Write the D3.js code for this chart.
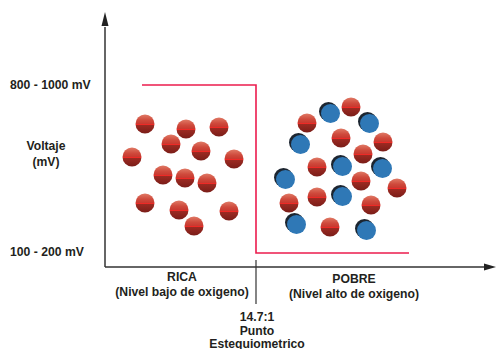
<!DOCTYPE html>
<html><head><meta charset="utf-8">
<script src="https://cdn.jsdelivr.net/npm/d3@7"></script>
<style>body{margin:0;background:#fff}svg{display:block}text{font-family:"Liberation Sans",Arial,sans-serif;font-weight:bold;fill:#231f20}</style>
</head><body>
<script>
// Plot units: x from y-axis, y up from x-axis
const richX = [40,81,114,66,27,96,129,58,80,102,40,74,124,89];
const richY = [143,138,140,123,110,116,108,92,89,84,64,57,56,41];
const leanRedX = [246,202,236,278,258,212,256,292,184,212,266,225];
const leanRedY = [160,144,129,125,113,100,86,79,64,70,62,40];
const leanBlueX = [225,264,195,237,277,180,237,191,261];
const leanBlueY = [154,144,123,101,99,88,71,43,37];
const voltX = [37,151,151,304];
const voltY = [182,182,14,14];
const yLabels = [{t:"800 - 1000 mV",v:182},{t:"100 - 200 mV",v:15}];
const stoichX = 151;
const regionLabels = [{t:"RICA",s:"(Nivel bajo de oxigeno)",x:77,dy:0},{t:"POBRE",s:"(Nivel alto de oxigeno)",x:249,dy:2}];
const stoichLabel = ["14.7:1","Punto","Estequiometrico"];

const W=496,H=349;
const x = d3.scaleLinear().domain([0,390]).range([105,495]);
const y = d3.scaleLinear().domain([0,255]).range([267,12]);
const svg = d3.select("body").append("svg").attr("width",W).attr("height",H);
const defs = svg.append("defs");
const g = defs.append("linearGradient").attr("id","redg").attr("x1",0).attr("y1",0).attr("x2",0).attr("y2",1);
[[0,"#e07a66"],[0.3,"#cf4a3c"],[0.5,"#c8382f"],[0.5,"#ee2a26"],[0.56,"#ee2a26"],[0.56,"#9c2a22"],[1,"#7a1d18"]].forEach(s=>g.append("stop").attr("offset",s[0]).attr("stop-color",s[1]));

// red voltage line
svg.append("path").attr("d",d3.line().x((d,i)=>x(voltX[i])).y((d,i)=>y(voltY[i]))(voltX))
  .attr("fill","none").attr("stroke","#ec1c4e").attr("stroke-width",1.6);

// axes
svg.append("line").attr("x1",x(0)).attr("x2",x(0)).attr("y1",y(0)).attr("y2",y(240)).attr("stroke","#333").attr("stroke-width",1.5);
svg.append("path").attr("d",`M${x(0)},${y(255)} L${x(0)-3.5},${y(241)} L${x(0)+3.5},${y(241)} Z`).attr("fill","#222");
svg.append("line").attr("x1",x(0)).attr("x2",x(380)).attr("y1",y(0)).attr("y2",y(0)).attr("stroke","#333").attr("stroke-width",1.5);
svg.append("path").attr("d",`M${x(391)},${y(0)} L${x(379)},${y(0)-3.5} L${x(379)},${y(0)+3.5} Z`).attr("fill","#222");
svg.append("line").attr("x1",x(stoichX)).attr("x2",x(stoichX)).attr("y1",y(7)).attr("y2",y(-37)).attr("stroke","#333").attr("stroke-width",1.2);

// circles
const r=9.5;
const red = richX.map((v,i)=>[v,richY[i]]).concat(leanRedX.map((v,i)=>[v,leanRedY[i]]));
svg.selectAll(".red").data(red).enter().append("circle").attr("cx",d=>x(d[0])).attr("cy",d=>y(d[1])).attr("r",r).attr("fill","url(#redg)");
const blue = leanBlueX.map((v,i)=>[v,leanBlueY[i]]);
svg.selectAll(".bsh").data(blue).enter().append("circle").attr("cx",d=>x(d[0])-1.5).attr("cy",d=>y(d[1])-1.5).attr("r",r).attr("fill","#1c2530");
svg.selectAll(".blu").data(blue).enter().append("circle").attr("cx",d=>x(d[0])+0.5).attr("cy",d=>y(d[1])+0.5).attr("r",r).attr("fill","#2f78b6");

// labels
const fs = "12.2px";
svg.selectAll(".yl").data(yLabels).enter().append("text").attr("x",10).attr("y",d=>y(d.v)+4).attr("font-size",fs).text(d=>d.t);
svg.append("text").attr("x",46).attr("y",150).attr("text-anchor","middle").attr("font-size",fs).text("Voltaje");
svg.append("text").attr("x",46).attr("y",166).attr("text-anchor","middle").attr("font-size",fs).text("(mV)");
regionLabels.forEach(d=>{
  svg.append("text").attr("x",x(d.x)).attr("y",y(-14)+d.dy).attr("text-anchor","middle").attr("font-size",fs).text(d.t);
  svg.append("text").attr("x",x(d.x)).attr("y",y(-29)+d.dy).attr("text-anchor","middle").attr("font-size",fs).text(d.s);
});
stoichLabel.forEach((t,i)=>svg.append("text").attr("x",x(stoichX)+1).attr("y",y(-54)+i*13.5).attr("text-anchor","middle").attr("font-size",fs).text(t));
</script>
</body></html>
